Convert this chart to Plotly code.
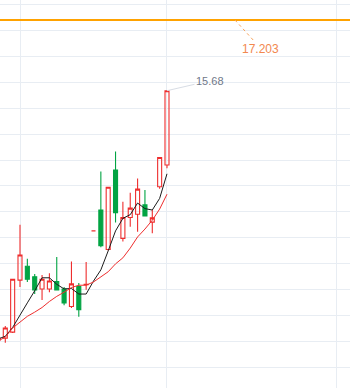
import plotly.graph_objects as go

# ---- data ----
idx = [-1, 0, 1, 2, 3, 4, 5, 6, 7, 8, 9, 10, 11, 12, 13, 14, 15, 16, 17, 18, 19, 20, 21, 22]
opens = [10.30, 10.35, 10.48, 11.60, 11.90, 11.67, 11.41, 11.41, 11.57, 11.41, 11.03, 11.46,
         11.50, 12.66, 13.11, 12.26, 13.97, 12.50, 12.95, 13.02, 13.22, 12.85, 13.61, 14.08]
closes = [10.35, 10.57, 11.62, 12.14, 11.62, 11.39, 11.62, 11.58, 11.39, 11.11, 11.52, 10.96,
          11.51, 12.66, 12.34, 13.60, 13.05, 12.95, 13.15, 13.56, 12.98, 12.94, 14.24, 15.68]
highs = [10.40, 10.61, 11.63, 12.79, 12.06, 11.73, 11.71, 11.75, 12.10, 11.45, 12.00, 11.54,
         11.99, 12.66, 13.94, 13.60, 14.37, 13.29, 13.48, 13.79, 13.54, 13.11, 14.24, 15.68]
lows = [10.25, 10.25, 10.46, 11.45, 11.56, 11.30, 11.17, 11.34, 11.38, 11.06, 11.00, 10.81,
        11.39, 12.66, 12.31, 12.24, 12.84, 12.43, 12.75, 12.64, 12.98, 12.61, 13.57, 14.01]
ma5 = [10.33, 10.39, 10.58, 10.83, 11.11, 11.37, 11.65, 11.65, 11.51, 11.41, 11.42, 11.30,
       11.30, 11.58, 11.82, 12.23, 12.66, 12.93, 13.01, 13.26, 13.14, 13.11, 13.36, 13.89]
ma10 = [10.29, 10.37, 10.57, 10.70, 10.82, 10.91, 11.01, 11.14, 11.25, 11.34, 11.44, 11.49,
        11.49, 11.56, 11.67, 11.78, 11.95, 12.08, 12.29, 12.53, 12.70, 12.89, 13.13, 13.45]
month_ticks = [2, 22, 45.1]
mark_price = 17.203
mark_x = 31.25
mark_label = "17.203"

RED = "#ee2e2e"
GREEN = "#02a443"

hi_i = max(range(len(highs)), key=lambda i: highs[i])

fig = go.Figure()
fig.add_trace(go.Candlestick(
    x=idx, open=opens, high=highs, low=lows, close=closes,
    increasing=dict(line=dict(color=RED, width=1.1), fillcolor="rgba(255,255,255,0)"),
    decreasing=dict(line=dict(color=GREEN, width=1.1), fillcolor=GREEN),
    whiskerwidth=0, hoverinfo="skip",
))
fig.add_trace(go.Scatter(x=idx, y=ma5, mode="lines",
                         line=dict(color="#1c1c1c", width=1), hoverinfo="skip"))
fig.add_trace(go.Scatter(x=idx, y=ma10, mode="lines",
                         line=dict(color=RED, width=1), hoverinfo="skip"))

# horizontal mark line
fig.add_shape(type="line", xref="paper", x0=0, x1=1, yref="y", y0=mark_price, y1=mark_price,
              line=dict(color="#ffa200", width=2))
fig.add_shape(type="line", xref="x", yref="y", xsizemode="pixel", ysizemode="pixel",
              xanchor=mark_x, yanchor=mark_price, x0=0, x1=20, y0=0, y1=-22,
              line=dict(color="#f7a35c", width=1, dash="dot"))
fig.add_annotation(x=mark_x, y=mark_price, text=mark_label, showarrow=False,
                   xshift=26, yshift=-28.5,
                   font=dict(family="Liberation Sans", size=12, color="#f2884f"))

# highest price label
fig.add_annotation(x=idx[hi_i], y=highs[hi_i], text=f"{highs[hi_i]:.2f}", showarrow=True,
                   arrowhead=0, arrowwidth=1, arrowcolor="#d8dde5", ax=43, ay=-10, standoff=0,
                   font=dict(family="Liberation Sans", size=11, color="#6f7889"))

fig.update_layout(
    width=350, height=388, margin=dict(l=0, r=0, t=0, b=0),
    paper_bgcolor="white", plot_bgcolor="white", showlegend=False,
    boxgap=0.22,
    xaxis=dict(range=[-0.721, 46.9], tickmode="array", tickvals=month_ticks,
               showticklabels=False, showgrid=True, gridcolor="#e8edf3", gridwidth=1,
               zeroline=False, showline=False, rangeslider=dict(visible=False)),
    yaxis=dict(range=[9.276, 17.634], tick0=17.5475, dtick=0.56,
               showticklabels=False, showgrid=True, gridcolor="#e8edf3", gridwidth=1,
               zeroline=False, showline=False),
)
fig.write_html("out.html")
